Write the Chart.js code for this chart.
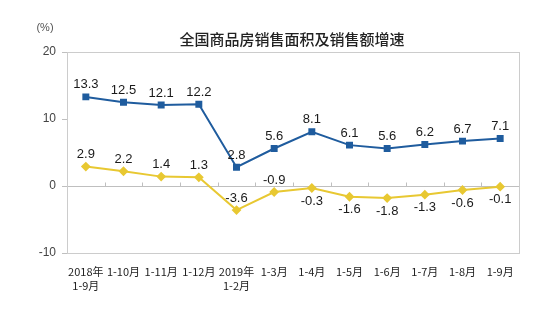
<!DOCTYPE html>
<html>
<head>
<meta charset="utf-8">
<script src="https://cdn.jsdelivr.net/npm/chart.js@4.4.1/dist/chart.umd.min.js"></script>
<style>
html,body{margin:0;padding:0;background:#fff;}
canvas{display:block;}
</style>
</head>
<body>
<canvas id="c" width="554" height="323"></canvas>
<script>
const categories = [['2018年','1-9月'],'1-10月','1-11月','1-12月',['2019年','1-2月'],'1-3月','1-4月','1-5月','1-6月','1-7月','1-8月','1-9月'];
const areaGrowth = [13.3,12.5,12.1,12.2,2.8,5.6,8.1,6.1,5.6,6.2,6.7,7.1];
const amountGrowth = [2.9,2.2,1.4,1.3,-3.6,-0.9,-0.3,-1.6,-1.8,-1.3,-0.6,-0.1];
const amountLabelPos = ['above','above','above','above','above','above','below','below','below','below','below','below'];
const yTicks = [-10,0,10,20];
const titleText = '全国商品房销售面积及销售额增速';
const unitText = '(%)';

const framePlugin = {
  id:'frame',
  beforeDatasetsDraw(chart){
    const {ctx, chartArea:a} = chart;
    ctx.save();
    ctx.strokeStyle = '#cccccc';
    ctx.lineWidth = 1;
    ctx.strokeRect(Math.round(a.left)+0.5, Math.round(a.top)+0.5, Math.round(a.right-a.left), Math.round(a.bottom-a.top));
    const xs = chart.scales.x, ys = chart.scales.y;
    const y0 = Math.round(ys.getPixelForValue(0))+0.5;
    ctx.strokeStyle = '#bfbfbf';
    ctx.beginPath();
    for(let i=1;i<categories.length;i++){
      const bx = Math.round((xs.getPixelForValue(i-1)+xs.getPixelForValue(i))/2)+0.5;
      ctx.moveTo(bx,y0); ctx.lineTo(bx,y0-4);
    }
    ctx.stroke();
    ctx.restore();
  },
  afterDraw(chart){
    const ctx = chart.ctx;
    ctx.save();
    ctx.fillStyle = '#222';
    ctx.font = '500 15px "Noto Sans CJK SC"';
    ctx.textAlign = 'center';
    ctx.textBaseline = 'middle';
    ctx.fillText(titleText, 292, 39);
    ctx.fillStyle = '#555';
    ctx.font = '11px "Liberation Sans"';
    ctx.fillText(unitText, 45, 28);
    ctx.restore();
  }
};

const labelPlugin = {
  id:'vlabels',
  afterDatasetsDraw(chart){
    const ctx = chart.ctx;
    ctx.save();
    ctx.fillStyle = '#1a1a1a';
    ctx.font = '13px "Liberation Sans"';
    ctx.textAlign = 'center';
    ctx.textBaseline = 'middle';
    chart.data.datasets.forEach((ds,di)=>{
      const meta = chart.getDatasetMeta(di);
      meta.data.forEach((pt,i)=>{
        const pos = ds.labelPos ? ds.labelPos[i] : 'above';
        const y = pos==='above' ? pt.y-12 : pt.y+13;
        ctx.fillText(ds.data[i].toFixed(1), pt.x, y);
      });
    });
    ctx.restore();
  }
};

new Chart(document.getElementById('c'), {
  type:'line',
  data:{
    labels:categories,
    datasets:[
      {label:'销售面积', data:areaGrowth, borderColor:'#1f5c9e', backgroundColor:'#1f5c9e', borderWidth:2,
       pointStyle:'rect', pointRadius:3.5, pointHoverRadius:3.5, tension:0},
      {label:'销售额', data:amountGrowth, labelPos:amountLabelPos, borderColor:'#e8c832', backgroundColor:'#e8c832', borderWidth:2,
       pointStyle:'rectRot', pointRadius:3.5, pointHoverRadius:3.5, tension:0}
    ]
  },
  options:{
    responsive:false,
    animation:false,
    devicePixelRatio:1,
    layout:{padding:{top:52,right:35,left:0,bottom:0}},
    plugins:{legend:{display:false},title:{display:false},tooltip:{enabled:false}},
    scales:{
      x:{
        offset:true,
        grid:{display:false},
        border:{display:true,color:'#cccccc'},
        ticks:{color:'#222',font:{family:'"Noto Sans CJK SC"',size:11,lineHeight:1.35},padding:3,maxRotation:0,autoSkip:false},
        afterFit(s){ s.height = 70; }
      },
      y:{
        min:-10,max:20,
        afterBuildTicks(s){ s.ticks = yTicks.map(v=>({value:v})); },
        grid:{
          color:(c)=> c.tick && c.tick.value===0 ? '#bfbfbf' : 'rgba(0,0,0,0)',
          tickColor:'#bfbfbf', tickLength:5, drawTicks:true
        },
        border:{display:true,color:'#cccccc'},
        ticks:{color:'#444',font:{family:'"Liberation Sans"',size:12},padding:6},
        afterFit(s){ s.width = 67; }
      }
    }
  },
  plugins:[framePlugin,labelPlugin]
});
</script>
</body>
</html>
